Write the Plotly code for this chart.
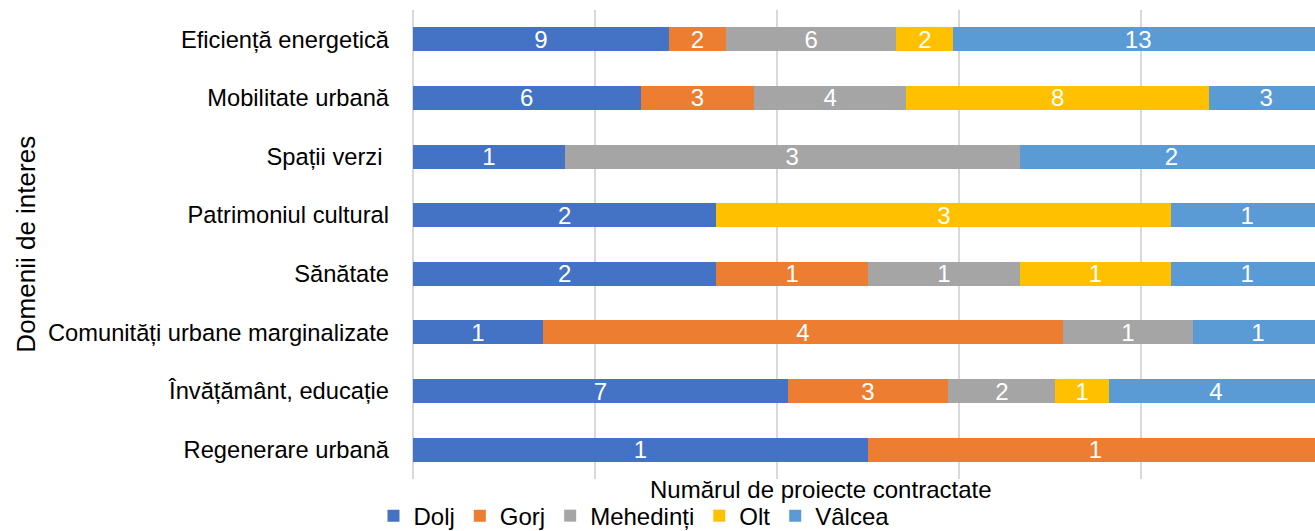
import plotly.graph_objects as go

categories = ["Eficiență energetică", "Mobilitate urbană", "Spații verzi\u00a0", "Patrimoniul cultural",
              "Sănătate", "Comunități urbane marginalizate", "Învățământ, educație", "Regenerare urbană"]
series_names = ["Dolj", "Gorj", "Mehedinți", "Olt", "Vâlcea"]
dolj = [9, 6, 1, 2, 2, 1, 7, 1]
gorj = [2, 3, 0, 0, 1, 4, 3, 1]
mehedinti = [6, 4, 3, 0, 1, 1, 2, 0]
olt = [2, 8, 0, 3, 1, 0, 1, 0]
valcea = [13, 3, 2, 1, 1, 1, 4, 0]
colors = ["#4472C4", "#ED7D31", "#A5A5A5", "#FFC000", "#5B9BD5"]

FONT = "Liberation Sans, Arial, sans-serif"
fig = go.Figure()
for name, vals, col in zip(series_names, [dolj, gorj, mehedinti, olt, valcea], colors):
    fig.add_trace(go.Bar(
        y=categories, x=vals, name=name, orientation="h",
        marker=dict(color=col, line=dict(width=0)),
        text=[str(v) if v else "" for v in vals],
        textposition="inside", insidetextanchor="middle", textangle=0,
        constraintext="none",
        textfont=dict(color="white", size=24, family=FONT),
        cliponaxis=True,
    ))

fig.update_layout(
    width=1315, height=531,
    barmode="stack", barnorm="percent", bargap=0.59,
    margin=dict(l=413, r=0, t=10, b=52, autoexpand=False),
    paper_bgcolor="white", plot_bgcolor="white",
    font=dict(family=FONT, size=20, color="#000000"),
    showlegend=True,
    legend=dict(orientation="h", traceorder="normal", x=0.245, xanchor="center",
                y=-0.079, yanchor="middle",
                font=dict(size=24), itemwidth=30, tracegroupgap=0,
                borderwidth=0, bgcolor="rgba(0,0,0,0)"),
    annotations=[
        dict(text="Numărul de proiecte contractate", xref="paper", yref="paper",
             x=0.452, y=-0.023, xanchor="center", yanchor="middle", showarrow=False,
             font=dict(size=24)),
        dict(text="Domenii de interes", xref="paper", yref="paper",
             x=-0.43, y=0.5, xanchor="center", yanchor="middle", showarrow=False,
             textangle=-90, font=dict(size=26)),
    ],
)
fig.update_xaxes(range=[0, 99.12], showticklabels=False, ticks="",
                 showgrid=True, gridcolor="#D9D9D9", gridwidth=1.5, dtick=20,
                 zeroline=True, zerolinecolor="#D9D9D9", zerolinewidth=1.5, showline=False,
                 automargin=False)
fig.update_yaxes(categoryorder="array", categoryarray=categories, autorange="reversed",
                 showgrid=False, ticks="", ticklabelstandoff=23, showline=False,
                 tickfont=dict(size=23.7), automargin=False)

fig.write_html("out.html", config={"displayModeBar": False},
               post_script="document.body.style.margin='0';")
